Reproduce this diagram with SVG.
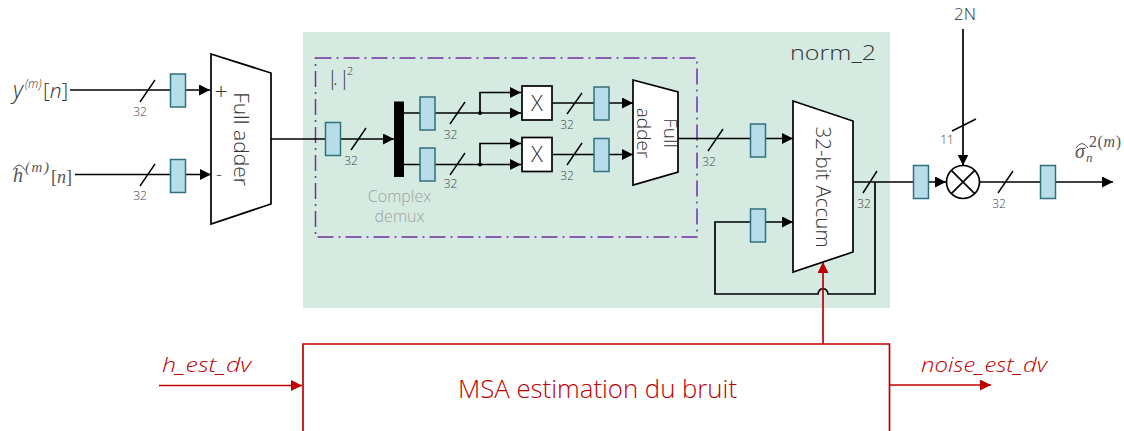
<svg xmlns="http://www.w3.org/2000/svg" width="1124" height="431" viewBox="0 0 1124 431">
<style>
text{font-family:"Open Sans","Liberation Sans",sans-serif;font-weight:300;fill:#333}
.w{font-size:12px;text-anchor:middle;fill:#444}
.reg{fill:#b7dde8;stroke:#31707f;stroke-width:1.5}
.blk{fill:#fff;stroke:#000;stroke-width:1.7}
.ln{fill:none;stroke:#000;stroke-width:1.7}
.sl{fill:none;stroke:#000;stroke-width:1.4}
.red{fill:none;stroke:#c00000;stroke-width:1.7}
.ma{font-family:"Liberation Serif",serif;font-weight:400;fill:#555}
.rt{fill:#c00000}
.gr{fill:#a0a0a0;font-size:16px;text-anchor:middle}
</style>
<defs>
<marker id="a" markerUnits="userSpaceOnUse" markerWidth="11" markerHeight="11" refX="11" refY="5.5" orient="auto"><path d="M0 0L11 5.5L0 11Z" fill="#000"/></marker>
<marker id="r" markerUnits="userSpaceOnUse" markerWidth="11" markerHeight="11" refX="11" refY="5.5" orient="auto"><path d="M0 0L11 5.5L0 11Z" fill="#c00000"/></marker>
</defs>
<rect id="norm_2_bg" x="303" y="32" width="587" height="276" fill="#d5ebe2"/>
<rect id="abs_square" x="315.5" y="58" width="381.5" height="179" fill="none" stroke="#7030a0" stroke-width="1.5" stroke-dasharray="16 5 2 5"/>
<text x="790" y="60" font-size="21" textLength="86" lengthAdjust="spacingAndGlyphs">norm_2</text>
<text x="327 333 339" y="85" font-size="20">|.|<tspan x="347" y="75" font-size="11">2</tspan></text>
<g id="connectors">
<path class="ln" d="M70 90H210" marker-end="url(#a)"/>
<path class="ln" d="M75 174.500H211" marker-end="url(#a)"/>
<path class="ln" d="M271 139H394" marker-end="url(#a)"/>
<path class="ln" d="M404 113H480V92.500H521" marker-end="url(#a)"/>
<path class="ln" d="M480 113H521" marker-end="url(#a)"/>
<path class="ln" d="M404 164.500H480V143.500H521" marker-end="url(#a)"/>
<path class="ln" d="M480 164.500H521" marker-end="url(#a)"/>
<path class="ln" d="M552 103H633" marker-end="url(#a)"/>
<path class="ln" d="M552 154.500H633" marker-end="url(#a)"/>
<path class="ln" d="M678 138.500H793" marker-end="url(#a)"/>
<path class="ln" d="M875 182V294H828C827 287 819 287 818 294H715V222H793" marker-end="url(#a)"/>
<path class="ln" d="M853 182H946" marker-end="url(#a)"/>
<path class="ln" d="M980 182H1113" marker-end="url(#a)"/>
<path class="ln" d="M963 29V165.500" marker-end="url(#a)"/>
<path class="red" d="M823 344V262" marker-end="url(#r)"/>
<path class="red" d="M159 385.500H302" marker-end="url(#r)"/>
<path class="red" d="M889 385H991" marker-end="url(#r)"/>
<circle cx="480" cy="113" r="2"/><circle cx="480" cy="164.500" r="2"/>
<path class="sl" d="M140 102L155 80M140 186L155 164M351 150L366 128M450 124L465 102M450 175L465 153M567 114L582 93M567 165L582 143M708 151L723 129M863 193L877 171M998 193L1013 171M952 131L976 119"/>
</g>
<g id="width_labels">
<text class="w" x="140" y="116">32</text><text class="w" x="140" y="200">32</text><text class="w" x="351" y="165">32</text><text class="w" x="450.500" y="139">32</text><text class="w" x="450.500" y="188">32</text><text class="w" x="567" y="129">32</text><text class="w" x="567" y="180">32</text><text class="w" x="709" y="166">32</text><text class="w" x="864" y="208">32</text><text class="w" x="999" y="208">32</text><text class="w" x="947" y="144">11</text>
</g>
<g id="reg1"><rect class="reg" x="170.500" y="74" width="15" height="33"/></g>
<g id="reg2"><rect class="reg" x="170.500" y="159.500" width="15" height="33"/></g>
<g id="reg3"><rect class="reg" x="325.500" y="122.500" width="15" height="33"/></g>
<g id="reg4"><rect class="reg" x="420" y="97" width="15" height="33"/></g>
<g id="reg5"><rect class="reg" x="420" y="148" width="15" height="33"/></g>
<g id="reg6"><rect class="reg" x="594" y="87" width="15" height="33"/></g>
<g id="reg7"><rect class="reg" x="594" y="138.500" width="15" height="33"/></g>
<g id="reg8"><rect class="reg" x="750.500" y="124" width="15" height="33"/></g>
<g id="reg9"><rect class="reg" x="750.500" y="209" width="15" height="33"/></g>
<g id="reg10"><rect class="reg" x="913.500" y="165.500" width="15" height="33"/></g>
<g id="reg11"><rect class="reg" x="1040.500" y="165.500" width="15" height="33"/></g>
<g id="full_adder_1"><path class="blk" d="M211 54L271 73V204L211 224Z"/>
<text transform="translate(241 139) rotate(90)" x="0" y="7" font-size="21" text-anchor="middle">Full adder</text>
<text x="221" y="100" font-size="23" text-anchor="middle">+</text><text x="219" y="180" font-size="17" text-anchor="middle">-</text></g>
<g id="demux"><rect x="394" y="101.500" width="10" height="75.500" fill="#000"/>
<text class="gr" x="399.500" y="202">Complex</text><text class="gr" x="399.500" y="222">demux</text></g>
<g id="mult_1"><rect class="blk" x="522" y="86" width="30" height="34"/><text x="537" y="110.500" font-size="22" text-anchor="middle">X</text></g>
<g id="mult_2"><rect class="blk" x="522" y="137.500" width="30" height="34"/><text x="537" y="162" font-size="22" text-anchor="middle">X</text></g>
<g id="full_adder_2"><path class="blk" d="M633 80L678 92V172L633 185Z"/>
<text transform="translate(670 133) rotate(90)" x="0" y="6" font-size="19" text-anchor="middle">Full</text>
<text transform="translate(643 133) rotate(90)" x="0" y="6" font-size="19" text-anchor="middle">adder</text></g>
<g id="accum"><path class="blk" d="M793 101L853 121V252L793 272Z"/>
<text transform="translate(823 187) rotate(90)" x="0" y="7" font-size="20.500" text-anchor="middle">32-bit Accum</text></g>
<g id="mult_3"><circle class="blk" cx="963" cy="182" r="16.500"/><path class="ln" d="M951.300 170.300L974.700 193.700M974.700 170.300L951.300 193.700"/></g>
<text x="965" y="20" font-size="17" text-anchor="middle">2N</text>
<g id="in_y"><text x="13" y="98" font-size="23" font-style="italic">y</text><text x="25" y="88" font-size="12" font-style="italic">(m)</text><text x="43" y="98" font-size="21">[<tspan font-style="italic">n</tspan>]</text></g>
<g id="in_h"><path d="M13 170Q19 160 25 170" fill="none" stroke="#555"/><text class="ma" x="13" y="182" font-size="20" font-style="italic">h</text><text class="ma" x="25" y="172" font-size="15" font-style="italic" textLength="24">(m)</text><text class="ma" x="51" y="183" font-size="18">[<tspan font-style="italic">n</tspan>]</text></g>
<g id="out_sigma"><path d="M1076 148Q1082 139 1088 148" fill="none" stroke="#555"/><text class="ma" x="1075" y="158" font-size="20" font-style="italic">σ</text><text class="ma" x="1086" y="162" font-size="13" font-style="italic">n</text><text class="ma" x="1089" y="147" font-size="16" textLength="32">2(<tspan font-style="italic">m</tspan>)</text></g>
<g id="msa"><path class="red" d="M303 431V344H889.500V431"/>
<text class="rt" x="458" y="398" font-size="25" textLength="279" lengthAdjust="spacingAndGlyphs">MSA estimation du bruit</text></g>
<text class="rt" x="162" y="372" font-size="20" font-style="italic" textLength="89" lengthAdjust="spacingAndGlyphs">h_est_dv</text>
<text class="rt" x="921" y="372" font-size="20" font-style="italic" textLength="126" lengthAdjust="spacingAndGlyphs">noise_est_dv</text>
</svg>
